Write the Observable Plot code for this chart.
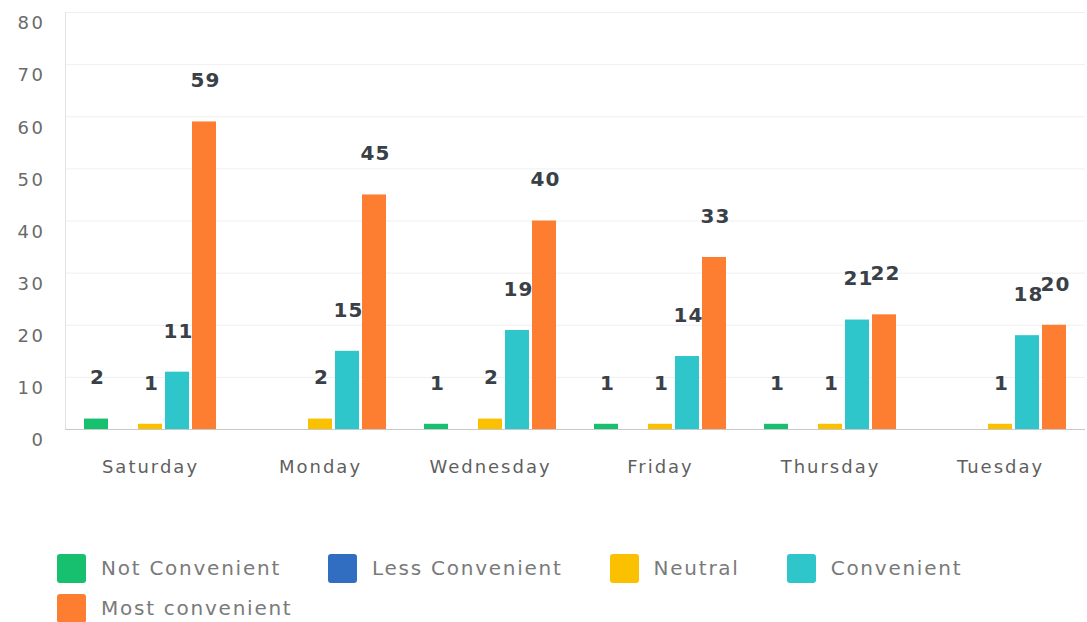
<!DOCTYPE html>
<html>
<head>
<meta charset="utf-8">
<script src="https://cdn.jsdelivr.net/npm/d3@7"></script>
<script src="https://cdn.jsdelivr.net/npm/@observablehq/plot@0.6"></script>
<style>
  html, body { margin: 0; padding: 0; background: #fff; font-family: "DejaVu Sans", sans-serif; }
  #legend { display: flex; flex-wrap: wrap; width: 1000px; margin-left: 57px; margin-top: 13px; row-gap: 10px; column-gap: 47px; }
  .item { display: flex; align-items: center; height: 30px; }
  .sw { width: 29px; height: 29px; border-radius: 3px; margin-right: 15px; }
  .lab { font-size: 20px; letter-spacing: 1.75px; color: #7a7a7a; }
  g[aria-label="fx-axis tick label"] text { letter-spacing: 2px; }
  g[aria-label="y-axis tick label"] text { letter-spacing: 2.5px; }
  g[aria-label="text"] text { letter-spacing: 1px; }
</style>
</head>
<body>
<div id="chart"></div>
<div id="legend"></div>
<script>
const days = ["Saturday", "Monday", "Wednesday", "Friday", "Thursday", "Tuesday"];
const series = ["Not Convenient", "Less Convenient", "Neutral", "Convenient", "Most convenient"];
const notConvenient = [2, 0, 1, 1, 1, 0];
const lessConvenient = [0, 0, 0, 0, 0, 0];
const neutral = [1, 2, 2, 1, 1, 1];
const convenient = [11, 15, 19, 14, 21, 18];
const mostConvenient = [59, 45, 40, 33, 22, 20];
const yTicks = [0, 10, 20, 30, 40, 50, 60, 70, 80];
const colors = ["#16c06f", "#316ec2", "#fbc100", "#2fc6cb", "#fd7e30"];

const seriesValues = [notConvenient, lessConvenient, neutral, convenient, mostConvenient];
const data = [];
days.forEach((day, i) => {
  series.forEach((s, j) => {
    data.push({ day, series: s, value: seriesValues[j][i] });
  });
});

const chart = Plot.plot({
  width: 1087,
  height: 540,
  marginLeft: 62,
  marginRight: 0,
  marginTop: 12,
  marginBottom: 111,
  style: { fontFamily: "DejaVu Sans, sans-serif", background: "white" },
  fx: { domain: days, padding: 0, label: null },
  x: { domain: series, axis: null, paddingInner: 0.1, paddingOuter: 0.66 },
  y: { domain: [0, 80], label: null },
  color: { domain: series, range: colors },
  marks: [
    Plot.gridY(yTicks, { stroke: "#efefef", strokeOpacity: 1 }),
    Plot.frame({ anchor: "left", stroke: "#e2e2e2", facetAnchor: "left" }),
    Plot.ruleY([0], { stroke: "#c8c8c8" }),
    Plot.barY(data, { fx: "day", x: "series", y: "value", fill: "series" }),
    Plot.text(data.filter(d => d.value > 0), {
      fx: "day", x: "series", y: "value", text: d => String(d.value),
      dy: -41, dx: 1, fontSize: 20, fontWeight: "bold", fill: "#3a4047"
    }),
    Plot.axisY(yTicks, { tickSize: 0, tickPadding: 20, dy: 11, fontSize: 18, fill: "#6a6a6a", label: null }),
    Plot.axisFx({ anchor: "bottom", tickSize: 0, tickPadding: 31, fontSize: 18, fill: "#5f5f5f", label: null })
  ]
});
document.getElementById("chart").appendChild(chart);

const legend = document.getElementById("legend");
series.forEach((s, j) => {
  const item = document.createElement("div");
  item.className = "item";
  const sw = document.createElement("div");
  sw.className = "sw";
  sw.style.background = colors[j];
  const lab = document.createElement("span");
  lab.className = "lab";
  lab.textContent = s;
  item.appendChild(sw);
  item.appendChild(lab);
  legend.appendChild(item);
});
</script>
</body>
</html>
